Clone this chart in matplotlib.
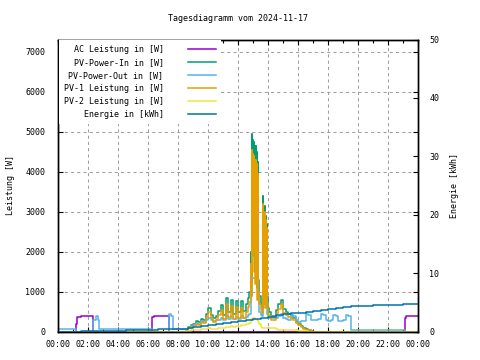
import matplotlib
matplotlib.use("Agg")
import matplotlib.pyplot as plt

# times as "HH:MM", values in W (energy in kWh)
ac_times = ["00:00", "01:12", "01:16", "01:30", "02:21", "06:15", "06:25", "07:25",
            "23:08", "23:12", "24:00"]
ac_power = [0, 200, 370, 390, 0, 370, 390, 0, 350, 400, 400]

day_times = ["08:30", "08:40", "08:50", "09:00", "09:10", "09:20", "09:30", "09:40", "09:50",
             "10:00", "10:10", "10:20", "10:30", "10:40", "10:50", "11:00", "11:10", "11:20",
             "11:30", "11:40", "11:50", "12:00", "12:10", "12:20", "12:30", "12:40",
             "12:45", "12:50", "12:52", "12:54", "12:56", "12:58",
             "13:00", "13:02", "13:04", "13:06", "13:08", "13:10", "13:12", "13:14", "13:16",
             "13:18", "13:20", "13:25", "13:30", "13:36",
             "13:38", "13:40", "13:42", "13:44", "13:46", "13:48", "13:50", "13:52", "13:54",
             "13:56", "14:00", "14:05", "14:10",
             "14:20", "14:30", "14:40", "14:50", "15:00", "15:10", "15:20", "15:30", "15:40",
             "15:50", "16:00", "16:10", "16:20", "16:30", "16:40", "16:50", "17:00"]
pv_in = [40, 120, 160, 200, 260, 230, 320, 280, 450,
         600, 420, 330, 380, 520, 660, 420, 830, 500,
         790, 450, 770, 480, 760, 520, 690, 830,
         1000, 2000, 1200, 4950, 1900, 4800,
         2400, 4750, 3850, 4650, 1500, 4650, 2850, 4500, 1100,
         4240, 1300, 900, 700, 600,
         3380, 900, 3100, 1300, 3150, 800, 2880, 1000, 2700,
         900, 600, 500, 400,
         380, 550, 700, 800, 560, 480, 430, 410, 330,
         250, 200, 140, 90, 60, 30, 10, 0]
pv1 = [30, 90, 120, 150, 200, 175, 250, 215, 360,
       490, 330, 250, 290, 410, 530, 310, 680, 370,
       640, 320, 610, 330, 590, 350, 500, 620,
       750, 1700, 900, 4550, 1500, 4450,
       2000, 4400, 3500, 4300, 1200, 4300, 2500, 4200, 800,
       3950, 1000, 680, 550, 470,
       3200, 700, 2950, 1200, 3000, 600, 2780, 900, 2600,
       700, 450, 380, 300,
       280, 430, 570, 680, 470, 410, 370, 350, 280,
       210, 170, 120, 75, 50, 30, 10, 0]
pv2 = [10, 25, 35, 45, 50, 50, 60, 60, 70,
       80, 75, 70, 75, 90, 100, 100, 120, 110,
       130, 120, 140, 140, 160, 160, 180, 200,
       220, 280, 300, 330, 330, 340,
       340, 340, 330, 330, 320, 320, 310, 300, 300,
       290, 250, 180, 120, 100,
       100, 100, 100, 100, 100, 100, 90, 90, 90,
       90, 90, 80, 80,
       80, 70, 50, 40, 40, 40, 40, 40, 35,
       30, 25, 20, 10, 5, 0, 0, 0]
pv_out_day = [60, 100, 130, 170, 220, 200, 260, 240, 300,
              330, 290, 270, 280, 300, 350, 300, 400, 320,
              380, 310, 360, 320, 380, 330, 370, 420,
              450, 700, 900, 1350, 1350, 1350,
              1350, 1350, 1350, 1350, 1350, 1350, 1350, 1350, 1350,
              1350, 1000, 500, 420, 380,
              1300, 1300, 1300, 1300, 1300, 1300, 1300, 1300, 1300,
              450, 380, 350, 340,
              330, 350, 380, 450, 330, 320, 300, 410, 400,
              280, 250, 260, 270, 450, 420, 300, 300]

out_early_times = ["00:00", "01:12", "02:21", "02:33", "02:39", "02:45", "06:15", "07:25",
                   "07:32", "07:41"]
out_early = [60, 0, 300, 400, 300, 60, 0, 450, 380, 60]
out_late_times = ["17:10", "17:20", "17:30", "17:40", "17:50", "18:00", "18:10", "18:20",
                  "18:30", "18:40", "18:50", "19:00", "19:10", "19:20", "19:30", "23:08", "24:00"]
out_late = [300, 310, 430, 420, 280, 270, 290, 410, 400, 270, 260, 280, 420, 400, 50, 0, 0]

energy_times = ["00:00", "01:30", "02:45", "04:30", "06:40", "08:40", "09:00", "09:30",
                "10:00", "10:30", "11:00", "11:30", "12:00", "12:30", "13:00", "13:30",
                "14:00", "14:30", "15:00", "15:30", "16:00", "16:30", "17:00", "17:30",
                "18:00", "18:30", "19:00", "19:30", "20:00", "21:00", "22:00", "23:00", "24:00"]
energy = [0.0, 0.05, 0.15, 0.3, 0.45, 0.6, 0.75, 0.95,
          1.1, 1.3, 1.45, 1.6, 1.8, 1.95, 2.1, 2.3,
          2.5, 2.75, 2.95, 3.1, 3.25, 3.4, 3.55, 3.7,
          3.8, 3.95, 4.15, 4.35, 4.45, 4.5, 4.6, 4.75, 4.75]

x_ticks = ["00:00", "02:00", "04:00", "06:00", "08:00", "10:00", "12:00",
           "14:00", "16:00", "18:00", "20:00", "22:00", "00:00"]


def hrs(ts):
    return [int(t[:2]) + int(t[3:]) / 60 for t in ts]


plt.rcParams['font.family'] = 'DejaVu Sans Mono'
plt.rcParams['font.size'] = 6

fig = plt.figure(figsize=(4.8, 3.6), dpi=100)
ax = fig.add_axes([58 / 480, 1 - 331.5 / 360, 360 / 480, 292 / 360])
ax2 = ax.twinx()

# zero lines for PV before sunrise / after sunset
pv_t = ["00:00"] + day_times + ["24:00"]
l_ac, = ax.plot(hrs(ac_times), ac_power, color='#9400d3', lw=1.1, drawstyle='steps-post')
l_in, = ax.plot(hrs(pv_t), [0] + pv_in + [0], color='#009e73', lw=1.1, drawstyle='steps-post')
l_out, = ax.plot(hrs(out_early_times + day_times + out_late_times),
                 out_early + pv_out_day + out_late,
                 color='#56b4e9', lw=1.1, drawstyle='steps-post')
l_p1, = ax.plot(hrs(pv_t), [0] + pv1 + [0], color='#e69f00', lw=1.1, drawstyle='steps-post')
l_p2, = ax.plot(hrs(pv_t), [0] + pv2 + [0], color='#f0e442', lw=1.1, drawstyle='steps-post')
l_en, = ax2.plot(hrs(energy_times), energy, color='#0072b2', lw=1.1, drawstyle='steps-post')

ax.set_xlim(0, 24)
ax.set_ylim(0, 7300)
ax2.set_ylim(0, 50)

ax.set_xticks(range(0, 25, 2))
ax.set_xticklabels(x_ticks)
ax.set_xticks(range(1, 24, 2), minor=True)
ax.set_yticks(range(0, 7001, 1000))
ax2.set_yticks(range(0, 51, 10))

ax.tick_params(axis='both', which='major', direction='in', length=3.6, width=0.8,
               top=True, right=True)
ax.tick_params(axis='x', which='minor', direction='in', length=2, width=0.8, top=True)
ax.tick_params(axis='y', pad=9)
ax.tick_params(axis='x', pad=6)
ax2.tick_params(axis='y', direction='in', length=3.6, width=0.8, pad=8)

ax.grid(True, which='major', color='#a0a0a0', lw=0.75, linestyle=(0, (3, 3)))
for a in (ax, ax2):
    for s in a.spines.values():
        s.set_linewidth(1.0)

ax.set_ylabel('Leistung [W]', labelpad=7.5)
ax2.set_ylabel('Energie [kWh]', labelpad=7.5)
fig.text(0.495, 0.948, 'Tagesdiagramm vom 2024-11-17', ha='center', va='center')

labels = ['AC Leistung in [W]', 'PV-Power-In in [W]', 'PV-Power-Out in [W]',
          'PV-1 Leistung in [W]', 'PV-2 Leistung in [W]', 'Energie in [kWh]']
leg = ax2.legend([l_ac, l_in, l_out, l_p1, l_p2, l_en], labels,
                 loc='upper right', bbox_to_anchor=((221 - 58) / 360, 1.0),
                 markerfirst=False, frameon=True, fancybox=False,
                 handlelength=3.4, handletextpad=2.9, labelspacing=0.5,
                 borderpad=0.6, borderaxespad=0)
leg.get_frame().set_edgecolor('none')
leg.get_frame().set_facecolor('white')
leg.get_frame().set_alpha(1)

fig.savefig('out.png', dpi=100)
